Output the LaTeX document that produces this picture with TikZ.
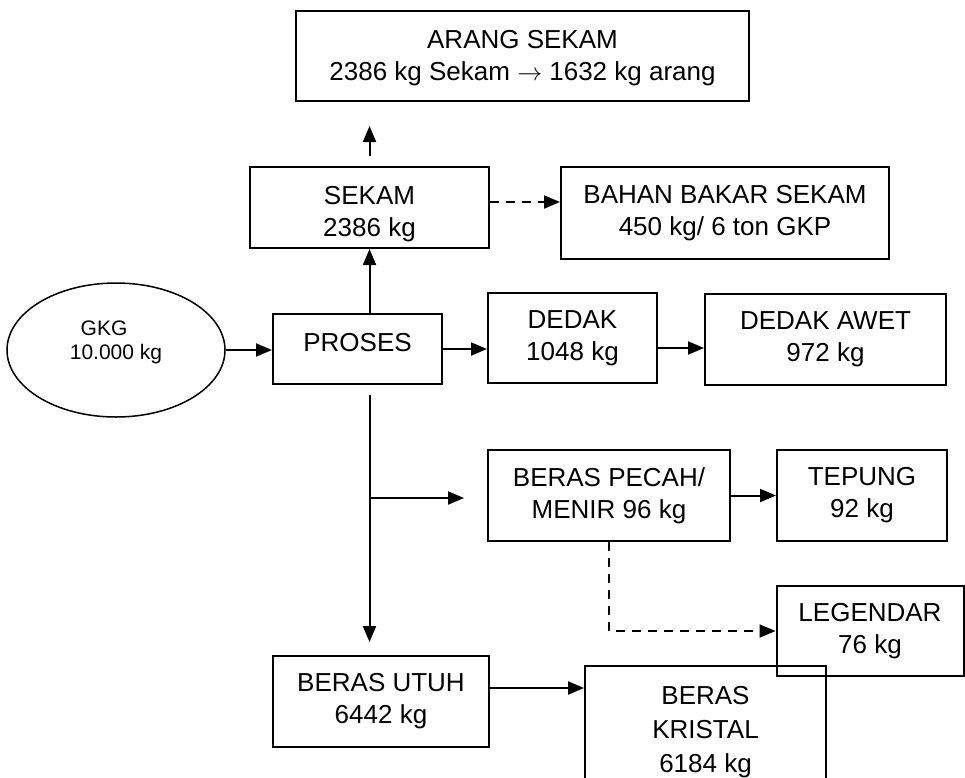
\documentclass[tikz,border=0pt]{standalone}
\usepackage{fontspec}
\setmainfont{Liberation Sans}
\usetikzlibrary{arrows.meta,positioning,shapes.geometric}
\tikzset{>={Triangle[length=16pt,width=13pt]}}

\begin{document}
\begin{tikzpicture}[
    x=1pt, y=-1pt,
    box/.style={rectangle, draw, line width=2pt, inner sep=0pt, align=center,
        font=\fontsize{26}{32}\selectfont},
    flow/.style={->, line width=2pt},
    flowdash/.style={->, line width=2pt, dash pattern=on 9pt off 7pt}
]
    \path[use as bounding box] (0,0) rectangle (965,777);
    \clip (0,0) rectangle (965,777);

    \node[ellipse, draw, line width=1.5pt, minimum width=218pt, minimum height=134pt,
        inner sep=0pt, align=center, font=\fontsize{21}{24}\selectfont,
        text depth=20pt] (gkg) at (116,350) {GKG\hspace*{24pt}\\10.000 kg};
    \node[box, minimum width=169pt, minimum height=70pt, text depth=14pt] (proses) at (357.5,349) {PROSES};
    \node[box, minimum width=239pt, minimum height=81pt] (sekam) at (369.5,207.5) {\rule{0pt}{31pt}SEKAM\\2386 kg};
    \node[box, minimum width=453pt, minimum height=90pt] (arang) at (522.5,56) {\rule{0pt}{22pt}ARANG SEKAM\\2386 kg Sekam $\rightarrow$ 1632 kg arang};
    \node[box, minimum width=328pt, minimum height=92pt] (bahan) at (725,213) {BAHAN BAKAR SEKAM\\450 kg/ 6 ton GKP};
    \node[box, minimum width=169pt, minimum height=90pt] (dedak) at (572.5,338) {DEDAK\\1048 kg};
    \node[box, minimum width=241pt, minimum height=91pt] (awet) at (825.5,339.5) {DEDAK AWET\\972 kg};
    \node[box, minimum width=242pt, minimum height=91pt] (pecah) at (609,495.5) {BERAS PECAH/\\MENIR 96 kg};
    \node[box, minimum width=170pt, minimum height=91pt] (tepung) at (862,495.5) {TEPUNG\\92 kg};
    \node[box, minimum width=187pt, minimum height=90pt] (legendar) at (870,631) {LEGENDAR\\76 kg};
    \node[box, minimum width=216pt, minimum height=91pt] (utuh) at (381,701.5) {BERAS UTUH\\6442 kg};
    \node[box, minimum width=241pt, minimum height=121pt, font=\fontsize{26}{34}\selectfont] (kristal) at (705.5,726.5) {\rule{0pt}{28.6pt}BERAS\\KRISTAL\\6184 kg};

    \coordinate (branch) at (369.5,498);

    \draw[flow] (gkg.east) -- (gkg.east -| proses.west);
    \draw[flow] (proses.north -| sekam.south) -- (sekam.south);
    \draw[flow, shorten <=10pt, shorten >=24pt] (sekam.north) -- (sekam.north |- arang.south);
    \draw[flowdash] ([yshift=5.5pt]sekam.east) -- ([yshift=5.5pt]sekam.east -| bahan.west);
    \draw[flow] (proses.east) -- (proses.east -| dedak.west);
    \draw[flow] ([yshift=-10pt]dedak.east) -- ([yshift=-10pt]dedak.east -| awet.west);
    \draw[flow, shorten <=10pt, shorten >=13pt] (proses.south -| sekam.south) -- (sekam.south |- utuh.north);
    \draw[flow, shorten >=23pt] (branch) -- (branch -| pecah.west);
    \draw[flow] (pecah.east) -- (tepung.west);
    \draw[flowdash] (pecah.south) |- (legendar.west);
    \draw[flow] ([yshift=13.5pt]utuh.east) -- ([yshift=13.5pt]utuh.east -| kristal.west);
\end{tikzpicture}
\end{document}
